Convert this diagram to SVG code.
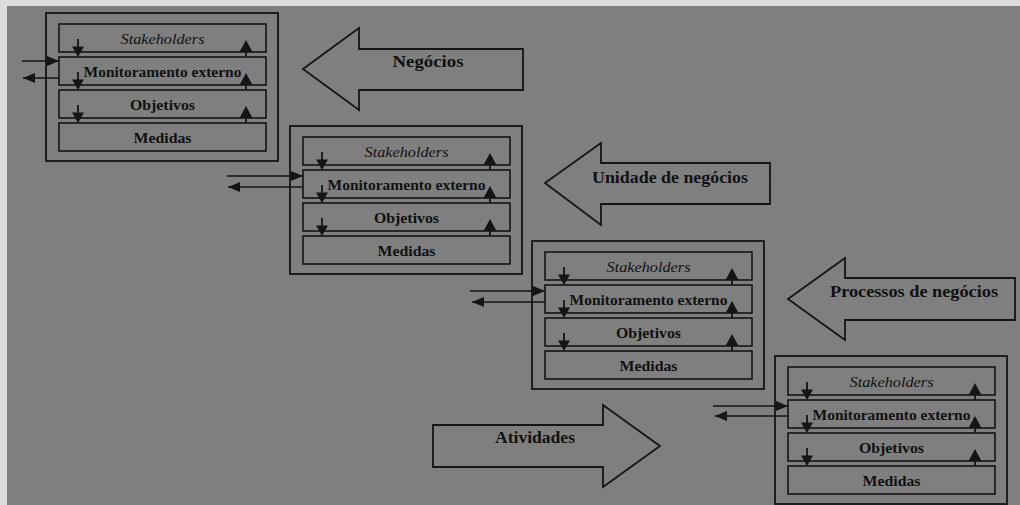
<svg xmlns="http://www.w3.org/2000/svg" xmlns:xlink="http://www.w3.org/1999/xlink" width="1020" height="505" viewBox="0 0 1020 505">
  <style>
    .frame { fill: none; stroke: #151515; stroke-width: 1.8; }
    .row { fill: none; stroke: #151515; stroke-width: 1.6; }
    .lbl { font-family: "Liberation Serif", "Times New Roman", serif; font-size: 14px; fill: #111; text-anchor: middle; font-weight: bold; }
    .it { font-style: italic; font-weight: normal; }
    .big { font-family: "Liberation Serif", "Times New Roman", serif; font-size: 16px; fill: #111; text-anchor: middle; font-weight: bold; }
    .block { fill: none; stroke: #151515; stroke-width: 1.8; stroke-linejoin: miter; }
    .link { fill: none; stroke: #151515; stroke-width: 1.7; }
    .tick { stroke: #151515; stroke-width: 1.8; }
    .head { fill: #151515; }
  </style>
  <defs>
    <marker id="arrowhead" viewBox="0 0 12 10" refX="12" refY="5" markerWidth="12" markerHeight="10" markerUnits="userSpaceOnUse" orient="auto">
      <path d="M0,0 L12,5 L0,10 Z" fill="#151515"/>
    </marker>
    <!-- small vertical arrows between the layers of a box -->
    <g id="down">
      <line class="tick" x1="0" y1="0" x2="0" y2="9"/>
      <path class="head" d="M-6,7.5 L6,7.5 L0,18 Z"/>
    </g>
    <g id="up">
      <path class="head" d="M-6.5,12 L6.5,12 L0,0 Z"/>
      <line class="tick" x1="0" y1="11" x2="0" y2="17"/>
    </g>
    <!-- one level: frame with four layers -->
    <g id="level">
      <rect class="frame" x="0" y="0" width="232" height="148"/>
      <rect class="row" x="13" y="11" width="207" height="28"/>
      <rect class="row" x="13" y="44" width="207" height="28"/>
      <rect class="row" x="13" y="77" width="207" height="28"/>
      <rect class="row" x="13" y="110" width="207" height="28"/>
      <text class="lbl it" x="116.5" y="31" textLength="84" lengthAdjust="spacingAndGlyphs">Stakeholders</text>
      <text class="lbl" x="116.5" y="64" textLength="158" lengthAdjust="spacingAndGlyphs">Monitoramento externo</text>
      <text class="lbl" x="116.5" y="97" textLength="65" lengthAdjust="spacingAndGlyphs">Objetivos</text>
      <text class="lbl" x="116.5" y="130" textLength="58" lengthAdjust="spacingAndGlyphs">Medidas</text>
      <use xlink:href="#down" x="32" y="26"/>
      <use xlink:href="#down" x="32" y="59"/>
      <use xlink:href="#down" x="32" y="92"/>
      <use xlink:href="#up" x="200" y="27"/>
      <use xlink:href="#up" x="200" y="60"/>
      <use xlink:href="#up" x="200" y="93"/>
    </g>
  </defs>

  <!-- background -->
  <rect x="0" y="0" width="1020" height="505" fill="#dcdcdc"/>
  <rect x="7" y="6" width="1013" height="499" fill="#7f7f7f"/>

  <!-- levels -->
  <g id="level-negocios" transform="translate(46,13)"><use xlink:href="#level"/></g>
  <g id="level-unidade" transform="translate(290,126)"><use xlink:href="#level"/></g>
  <g id="level-processos" transform="translate(532,241)"><use xlink:href="#level"/></g>
  <g id="level-atividades" transform="translate(775,356)"><use xlink:href="#level"/></g>

  <!-- block arrows naming each level -->
  <g id="arrow-negocios">
    <polygon class="block" points="303,69 359,28 359,49 523,49 523,90 359,90 359,110"/>
    <text class="big" x="428" y="67" textLength="71" lengthAdjust="spacingAndGlyphs">Negócios</text>
  </g>
  <g id="arrow-unidade">
    <polygon class="block" points="545,183 601,143 601,163 770,163 770,204 601,204 601,225"/>
    <text class="big" x="670" y="183" textLength="156" lengthAdjust="spacingAndGlyphs">Unidade de negócios</text>
  </g>
  <g id="arrow-processos">
    <polygon class="block" points="788,299 845,258 845,278 1015,278 1015,320 845,320 845,340"/>
    <text class="big" x="914" y="297" textLength="168" lengthAdjust="spacingAndGlyphs">Processos de negócios</text>
  </g>
  <g id="arrow-atividades">
    <polygon class="block" points="433,425 603,425 603,405 660,446 603,487 603,467 433,467"/>
    <text class="big" x="535" y="443" textLength="80" lengthAdjust="spacingAndGlyphs">Atividades</text>
  </g>

  <!-- external monitoring links -->
  <g id="connectors">
    <line class="link" x1="22" y1="61" x2="59" y2="61" marker-end="url(#arrowhead)"/>
    <line class="link" x1="59" y1="78" x2="23" y2="78" marker-end="url(#arrowhead)"/>
    <line class="link" x1="227" y1="176" x2="303" y2="176" marker-end="url(#arrowhead)"/>
    <line class="link" x1="303" y1="187" x2="228" y2="187" marker-end="url(#arrowhead)"/>
    <line class="link" x1="470" y1="291" x2="545" y2="291" marker-end="url(#arrowhead)"/>
    <line class="link" x1="545" y1="302" x2="472" y2="302" marker-end="url(#arrowhead)"/>
    <line class="link" x1="713" y1="406" x2="788" y2="406" marker-end="url(#arrowhead)"/>
    <line class="link" x1="788" y1="416" x2="715" y2="416" marker-end="url(#arrowhead)"/>
  </g>
</svg>
